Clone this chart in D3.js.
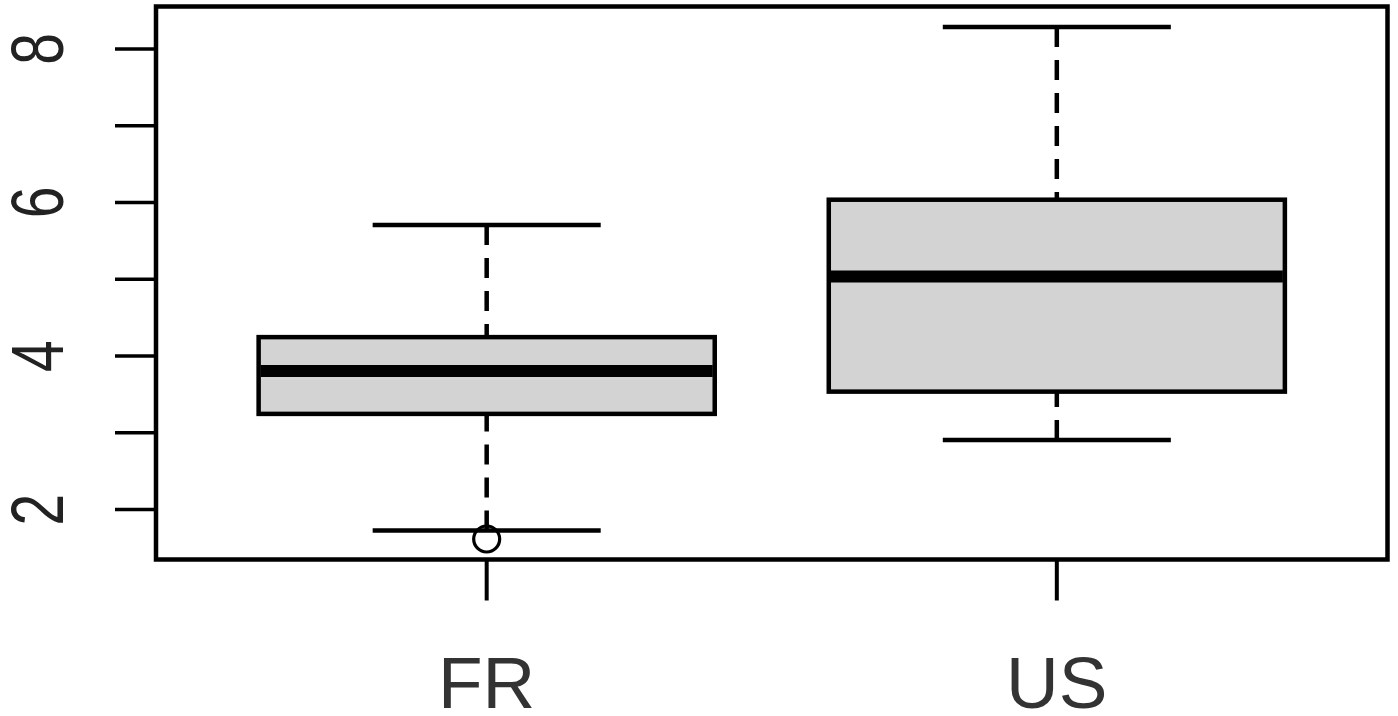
<!DOCTYPE html>
<html>
<head>
<meta charset="utf-8">
<script src="https://cdn.jsdelivr.net/npm/d3@7.9.0/dist/d3.min.js"></script>
<style>
  html, body { margin: 0; padding: 0; background: #fff; }
  svg { display: block; }
</style>
</head>
<body>
<svg id="chart" width="1398" height="716"></svg>
<script>
// values
const groups = ['FR', 'US'];
const lowerWhisker = [1.72, 2.90];
const q1 = [3.24, 3.53];
const medians = [3.80, 5.03];
const q3 = [4.24, 6.03];
const upperWhisker = [5.70, 8.28];
const outlierGroups = ['FR'];
const outlierValues = [1.61];
const yTicks = [2, 3, 4, 5, 6, 7, 8];
const yTickLabels = ['2', '', '4', '', '6', '', '8'];

const plotLeft = 156, plotRight = 1387.5, plotTop = 6.5, plotBottom = 559.5;
const svg = d3.select('#chart');

// R pads the data range by 4% on each side
const lo = d3.min([...lowerWhisker, ...outlierValues]);
const hi = d3.max(upperWhisker);
const pad = (hi - lo) * 0.04;

const y = d3.scaleLinear().domain([lo - pad, hi + pad]).range([plotBottom, plotTop]);
const x = d3.scaleBand()
  .domain(groups)
  .range([plotLeft, plotRight])
  .paddingInner(0.2)
  .paddingOuter(0.18);

const boxes = groups.map((g, i) => ({
  group: g, lw: lowerWhisker[i], q1: q1[i], med: medians[i], q3: q3[i], uw: upperWhisker[i]
}));
const bw = x.bandwidth();
const cx = d => x(d.group) + bw / 2;

const g = svg.append('g');

// whiskers, drawn from the whisker end towards the box
g.selectAll('line.whisk-up')
  .data(boxes)
  .join('line')
  .attr('class', 'whisk-up')
  .attr('x1', cx).attr('x2', cx)
  .attr('y1', d => y(d.uw)).attr('y2', d => y(d.q3))
  .attr('stroke', '#000').attr('stroke-width', 4.5)
  .attr('stroke-dasharray', '20 13');

g.selectAll('line.whisk-down')
  .data(boxes)
  .join('line')
  .attr('class', 'whisk-down')
  .attr('x1', cx).attr('x2', cx)
  .attr('y1', d => y(d.lw)).attr('y2', d => y(d.q1))
  .attr('stroke', '#000').attr('stroke-width', 4.5)
  .attr('stroke-dasharray', '20 13');

// staples
['uw', 'lw'].forEach(k => {
  g.selectAll('line.cap-' + k)
    .data(boxes)
    .join('line')
    .attr('class', 'cap-' + k)
    .attr('x1', d => cx(d) - bw / 4).attr('x2', d => cx(d) + bw / 4)
    .attr('y1', d => y(d[k])).attr('y2', d => y(d[k]))
    .attr('stroke', '#000').attr('stroke-width', 4.5);
});

// boxes
g.selectAll('rect.box')
  .data(boxes)
  .join('rect')
  .attr('class', 'box')
  .attr('x', d => x(d.group))
  .attr('width', bw)
  .attr('y', d => y(d.q3))
  .attr('height', d => y(d.q1) - y(d.q3))
  .attr('fill', '#d3d3d3')
  .attr('stroke', '#000').attr('stroke-width', 4.5);

// medians
g.selectAll('line.med')
  .data(boxes)
  .join('line')
  .attr('class', 'med')
  .attr('x1', d => x(d.group) + 2).attr('x2', d => x(d.group) + bw - 2)
  .attr('y1', d => y(d.med)).attr('y2', d => y(d.med))
  .attr('stroke', '#000').attr('stroke-width', 12);

// outliers
g.selectAll('circle.out')
  .data(outlierValues.map((v, i) => ({ group: outlierGroups[i], v })))
  .join('circle')
  .attr('class', 'out')
  .attr('cx', cx)
  .attr('cy', d => y(d.v))
  .attr('r', 13)
  .attr('fill', 'none')
  .attr('stroke', '#000').attr('stroke-width', 3.2);

// y axis
const yAxis = svg.append('g')
  .attr('transform', `translate(${plotLeft},0)`)
  .call(d3.axisLeft(y).tickValues(yTicks).tickSize(41)
    .tickFormat((d, i) => yTickLabels[i]));
yAxis.select('.domain').remove();
yAxis.selectAll('.tick line').attr('stroke', '#000').attr('stroke-width', 3.5);
yAxis.selectAll('.tick text')
  .attr('x', null).attr('dy', null)
  .attr('text-anchor', 'middle')
  .attr('transform', 'translate(-93,0) rotate(-90) scale(1,1.3)')
  .attr('fill', '#222')
  .style('font-family', '"Liberation Sans", Arial, sans-serif')
  .style('font-size', '57px');

// x axis
const xAxis = svg.append('g')
  .attr('transform', `translate(0,${plotBottom})`)
  .call(d3.axisBottom(x).tickSize(41));
xAxis.select('.domain').remove();
xAxis.selectAll('.tick line').attr('stroke', '#000').attr('stroke-width', 4);
xAxis.selectAll('.tick text')
  .attr('y', 148).attr('dy', null)
  .attr('fill', '#333')
  .style('font-family', '"Liberation Sans", Arial, sans-serif')
  .style('font-size', '73px');

// plot frame
svg.append('rect')
  .attr('x', plotLeft).attr('y', plotTop)
  .attr('width', plotRight - plotLeft).attr('height', plotBottom - plotTop)
  .attr('fill', 'none')
  .attr('stroke', '#000').attr('stroke-width', 4.5);
</script>
</body>
</html>
